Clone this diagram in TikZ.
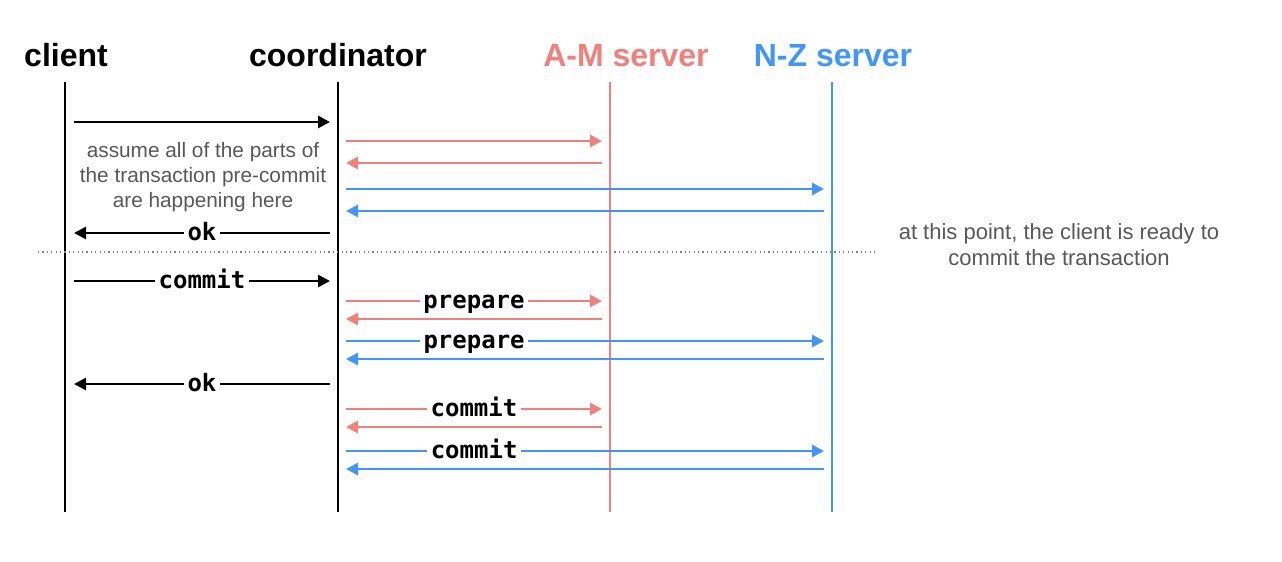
\documentclass[tikz,border=0pt]{standalone}
\usepackage{fontspec}
\setmainfont{Liberation Sans}
\setmonofont{DejaVu Sans Mono}
\usetikzlibrary{arrows.meta,positioning}
\definecolor{amred}{RGB}{240,128,122}
\definecolor{nzblue}{RGB}{66,150,250}
\definecolor{notegray}{RGB}{88,88,88}

\begin{document}
\begin{tikzpicture}[x=0.5pt, y=-0.5pt,
        head/.style={font=\bfseries\fontsize{16}{18}\selectfont, anchor=base},
        life/.style={line width=1pt},
        msg/.style={line width=1.4pt, -{Triangle[length=6pt,width=6pt]}},
        lbl/.style={fill=white, inner xsep=1.8pt, inner ysep=1pt, anchor=base,
                    yshift=-3.9pt, text=black,
                    font=\ttfamily\bfseries\fontsize{12}{14}\selectfont},
        note/.style={text=notegray, align=center,
                     font=\fontsize{10.4}{12.6}\selectfont}
    ]
    \useasboundingbox (0,0) rectangle (1282,562);

    % participants
    \node[head] (client) at (66,66) {client};
    \node[head] (coord) at (338,66) {coordinator};
    \node[head, text=amred] (am) at (626,66) {A-M server};
    \node[head, text=nzblue] (nz) at (833,66) {N-Z server};

    % lifelines
    \coordinate (clTop) at (65,82);   \coordinate (clBot) at (65,512);
    \coordinate (coTop) at (338,82);  \coordinate (coBot) at (338,512);
    \coordinate (amTop) at (610,82);  \coordinate (amBot) at (610,512);
    \coordinate (nzTop) at (832,82);  \coordinate (nzBot) at (832,512);
    \draw[life] (clTop) -- (clBot);
    \draw[life] (coTop) -- (coBot);
    \draw[life, amred] (amTop) -- (amBot);
    \draw[life, nzblue] (nzTop) -- (nzBot);

    % arrow ends beside the lifelines
    \coordinate (clR) at (74,0);
    \coordinate (coL) at (330,0);
    \coordinate (coR) at (346,0);
    \coordinate (amL) at (602,0);
    \coordinate (nzL) at (824,0);

    % before the commit
    \draw[msg] (clR |- 0,122) -- (coL |- 0,122);
    \foreach \y/\col/\tgt in {141/amred/amL, 189/nzblue/nzL}{
        \draw[msg, \col] (coR |- 0,\y) -- (\tgt |- 0,\y);
    }
    \foreach \y/\col/\src in {163/amred/amL, 211/nzblue/nzL}{
        \draw[msg, \col] (\src |- 0,\y) -- (coR |- 0,\y);
    }
    \node[note] (pre) at (203,177) {assume all of the parts of\\the transaction pre-commit\\are happening here};
    \draw[msg] (coL |- 0,233) -- node[lbl] {ok} (clR |- 0,233);

    % ready to commit
    \coordinate (sepL) at (38,252);
    \coordinate (sepR) at (878,252);
    \draw[gray, line width=0.6pt, dash pattern=on 0.6pt off 1.6pt] (sepL) -- (sepR);
    \node[note, font=\fontsize{11}{13}\selectfont] (ready) at (1059,245) {at this point, the client is ready to\\commit the transaction};

    % two-phase commit
    \draw[msg] (clR |- 0,281) -- node[lbl] {commit} (coL |- 0,281);
    \draw[msg, amred] (coR |- 0,301) -- node[lbl] {prepare} (amL |- 0,301);
    \draw[msg, amred] (amL |- 0,319) -- (coR |- 0,319);
    \draw[msg, nzblue] (coR |- 0,341) -- node[lbl, pos=0.268] {prepare} (nzL |- 0,341);
    \draw[msg, nzblue] (nzL |- 0,359) -- (coR |- 0,359);
    \draw[msg] (coL |- 0,384) -- node[lbl] {ok} (clR |- 0,384);
    \draw[msg, amred] (coR |- 0,409) -- node[lbl] {commit} (amL |- 0,409);
    \draw[msg, amred] (amL |- 0,427) -- (coR |- 0,427);
    \draw[msg, nzblue] (coR |- 0,451) -- node[lbl, pos=0.268] {commit} (nzL |- 0,451);
    \draw[msg, nzblue] (nzL |- 0,469) -- (coR |- 0,469);
\end{tikzpicture}
\end{document}
